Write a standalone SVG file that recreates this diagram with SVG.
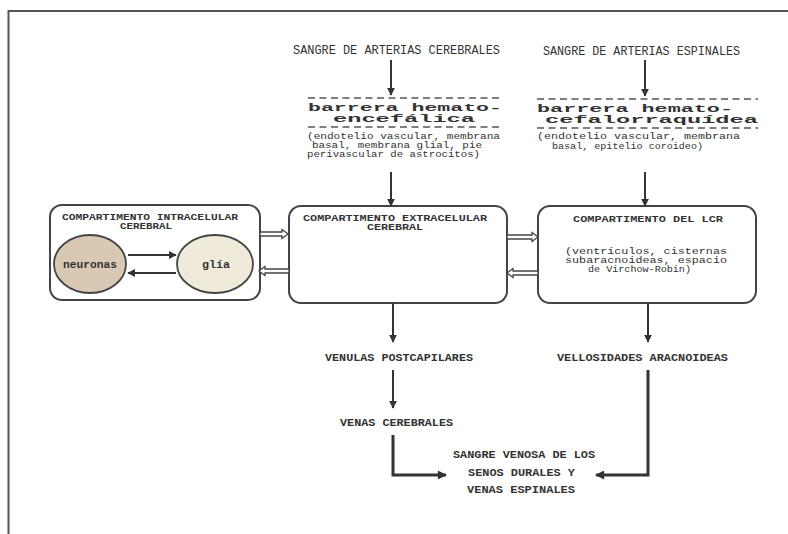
<svg xmlns="http://www.w3.org/2000/svg" width="788" height="534" viewBox="0 0 788 534">
<defs>
<marker id="ah" viewBox="0 0 10 10" refX="9" refY="5" markerWidth="4" markerHeight="4" orient="auto" markerUnits="strokeWidth">
<path d="M0,0 L10,5 L0,10 z" fill="#333"/>
</marker>
<marker id="ah2" viewBox="0 0 10 10" refX="9" refY="5" markerWidth="4" markerHeight="3" orient="auto" markerUnits="strokeWidth">
<path d="M0,0 L10,5 L0,10 z" fill="#333"/>
</marker>
<style>
.t{font-family:"Liberation Mono","DejaVu Sans Mono",monospace;fill:#333;}
.h{font-size:13px;}
.b{font-size:10px;font-weight:bold;}
.s{font-size:9px;font-weight:bold;}
.bar{font-size:11px;font-weight:bold;}
.p{font-size:9px;}
.box{fill:#fff;stroke:#444;stroke-width:2;}
.ln{stroke:#333;stroke-width:2;fill:none;}
.thk{stroke:#333;stroke-width:3;fill:none;}
.dash{stroke:#555;stroke-width:1.5;stroke-dasharray:7 4.5;}
.hol{fill:#fff;stroke:#444;stroke-width:1.3;}
</style>
</defs>
<rect width="788" height="534" fill="#fff"/>
<path d="M8.5 534 V11 H788" fill="none" stroke="#555" stroke-width="2"/>

<g id="top-cerebral">
<text class="t h" x="293" y="54" textLength="207" lengthAdjust="spacingAndGlyphs">SANGRE DE ARTERIAS CEREBRALES</text>
</g>
<g id="barrera-encefalica">
<line class="dash" x1="308" y1="98" x2="503" y2="98"/>
<text class="t bar" x="308" y="111" textLength="194" lengthAdjust="spacingAndGlyphs">barrera hemato-</text>
<text class="t bar" x="333" y="122" textLength="142" lengthAdjust="spacingAndGlyphs">encefálica</text>
<line class="dash" x1="308" y1="127" x2="503" y2="127"/>
<text class="t p" x="307" y="139" textLength="193" lengthAdjust="spacingAndGlyphs">(endotelio vascular, membrana</text>
<text class="t p" x="312" y="148" textLength="170" lengthAdjust="spacingAndGlyphs">basal, membrana glial, pie</text>
<text class="t p" x="307" y="157" textLength="173" lengthAdjust="spacingAndGlyphs">perivascular de astrocitos)</text>
</g>

<g id="top-espinal">
<text class="t h" x="543" y="55" textLength="197" lengthAdjust="spacingAndGlyphs">SANGRE DE ARTERIAS ESPINALES</text>
</g>
<g id="barrera-cefalorraquidea">
<line class="dash" x1="537" y1="99" x2="758" y2="99"/>
<text class="t bar" x="537" y="112" textLength="196" lengthAdjust="spacingAndGlyphs">barrera hemato-</text>
<text class="t bar" x="545" y="123" textLength="213" lengthAdjust="spacingAndGlyphs">cefalorraquídea</text>
<line class="dash" x1="537" y1="128" x2="758" y2="128"/>
<text class="t p" x="537" y="139" textLength="203" lengthAdjust="spacingAndGlyphs">(endotelio vascular, membrana</text>
<text class="t p" x="552" y="149" textLength="151" lengthAdjust="spacingAndGlyphs">basal, epitelio coroideo)</text>
</g>

<g id="intracelular">
<rect class="box" x="50" y="205" width="210" height="95" rx="12"/>
<text class="t s" x="62" y="220" textLength="176" lengthAdjust="spacingAndGlyphs">COMPARTIMENTO INTRACELULAR</text>
<text class="t s" x="120" y="229" textLength="52" lengthAdjust="spacingAndGlyphs">CEREBRAL</text>
</g>
<g id="neuronas">
<ellipse cx="90" cy="264" rx="36" ry="29" fill="#d9c9b4" stroke="#444" stroke-width="1.8"/>
<text class="t b" x="90" y="268" text-anchor="middle" textLength="54" lengthAdjust="spacingAndGlyphs">neuronas</text>
</g>
<g id="glia">
<ellipse cx="215" cy="264" rx="38" ry="29" fill="#f0eadb" stroke="#444" stroke-width="1.8"/>
<text class="t b" x="216" y="268" text-anchor="middle" textLength="28" lengthAdjust="spacingAndGlyphs">glía</text>
</g>

<g id="extracelular">
<rect class="box" x="289" y="206" width="218" height="97" rx="12"/>
<text class="t s" x="303" y="221" textLength="184" lengthAdjust="spacingAndGlyphs">COMPARTIMENTO EXTRACELULAR</text>
<text class="t s" x="367" y="230" textLength="56" lengthAdjust="spacingAndGlyphs">CEREBRAL</text>
</g>

<g id="lcr">
<rect class="box" x="538" y="206" width="218" height="97" rx="12"/>
<text class="t s" x="573" y="222" textLength="150" lengthAdjust="spacingAndGlyphs">COMPARTIMENTO DEL LCR</text>
<text class="t p" x="565" y="254" textLength="162" lengthAdjust="spacingAndGlyphs">(ventrículos, cisternas</text>
<text class="t p" x="565" y="263" textLength="162" lengthAdjust="spacingAndGlyphs">subaracnoideas, espacio</text>
<text class="t p" x="588" y="272" textLength="103" lengthAdjust="spacingAndGlyphs">de Virchow-Robin)</text>
</g>

<g id="venulas">
<text class="t b" x="325" y="361" textLength="148" lengthAdjust="spacingAndGlyphs">VENULAS POSTCAPILARES</text>
</g>
<g id="venas-cerebrales">
<text class="t b" x="340" y="426" textLength="113" lengthAdjust="spacingAndGlyphs">VENAS CEREBRALES</text>
</g>
<g id="vellosidades">
<text class="t b" x="557" y="361" textLength="171" lengthAdjust="spacingAndGlyphs">VELLOSIDADES ARACNOIDEAS</text>
</g>
<g id="sangre-venosa">
<text class="t b" x="453" y="458" textLength="142" lengthAdjust="spacingAndGlyphs">SANGRE VENOSA DE LOS</text>
<text class="t b" x="468" y="476" textLength="107" lengthAdjust="spacingAndGlyphs">SENOS DURALES Y</text>
<text class="t b" x="467" y="493" textLength="108" lengthAdjust="spacingAndGlyphs">VENAS ESPINALES</text>
</g>

<g id="connectors">
<line class="ln" x1="391" y1="60" x2="391" y2="95" marker-end="url(#ah)"/>
<line class="ln" x1="645" y1="60" x2="645" y2="96" marker-end="url(#ah)"/>
<line class="ln" x1="391" y1="172" x2="391" y2="206" marker-end="url(#ah)"/>
<line class="ln" x1="645" y1="172" x2="645" y2="206" marker-end="url(#ah)"/>
<line class="ln" x1="128" y1="255" x2="176" y2="255" stroke-width="1.5" marker-end="url(#ah)"/>
<line class="ln" x1="176" y1="273" x2="128" y2="273" stroke-width="1.5" marker-end="url(#ah)"/>
<polygon class="hol" points="260,232 282,232 282,229.5 288,234 282,238.5 282,236 260,236"/>
<polygon class="hol" points="289,269 265,269 265,266.5 259,271 265,275.5 265,273 289,273"/>
<polygon class="hol" points="507,235 532,235 532,232.5 538,237 532,241.5 532,239 507,239"/>
<polygon class="hol" points="538,271 513,271 513,268.5 507,273 513,277.5 513,275 538,275"/>
<line class="ln" x1="393" y1="303" x2="393" y2="342" marker-end="url(#ah)"/>
<line class="ln" x1="393" y1="370" x2="393" y2="408" marker-end="url(#ah)"/>
<line class="ln" x1="648" y1="303" x2="648" y2="342" marker-end="url(#ah)"/>
<path class="thk" d="M393 435 V475 H446" marker-end="url(#ah2)"/>
<path class="thk" d="M648 370 V475 H596" marker-end="url(#ah2)"/>
</g>
</svg>
